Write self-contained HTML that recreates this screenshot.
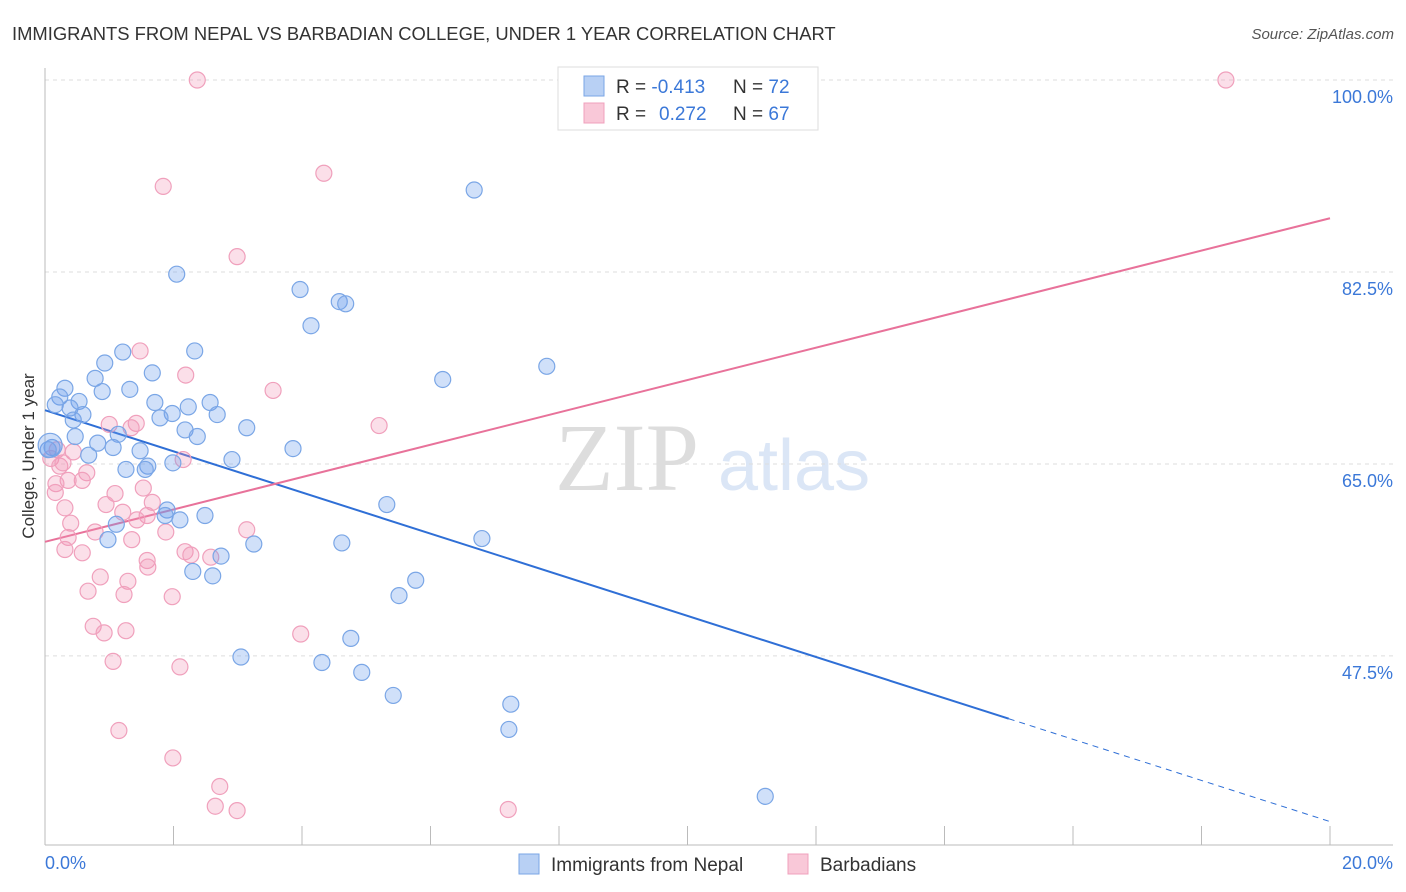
<!DOCTYPE html>
<html><head><meta charset="utf-8"><style>
body{margin:0;background:#fff;font-family:"Liberation Sans",sans-serif;}
svg{display:block}
</style></head><body>
<svg id="chart" width="1406" height="892">
<text x="12" y="40" font-size="18.4" fill="#333">IMMIGRANTS FROM NEPAL VS BARBADIAN COLLEGE, UNDER 1 YEAR CORRELATION CHART</text>
<text x="1394" y="39" font-size="15" fill="#555" font-style="italic" text-anchor="end">Source: ZipAtlas.com</text>
<text x="555" y="490" font-size="96" fill="#ddd" font-family="Liberation Serif,serif">ZIP</text>
<text x="718" y="490" font-size="72" fill="#dbe6f6">atlas</text>
<g id="grid"></g>
<g id="axes"></g>
<g id="lines"></g>
<g id="points"></g>
<text transform="translate(34,456) rotate(-90)" font-size="17" fill="#333" text-anchor="middle">College, Under 1 year</text>
<text x="45" y="869" font-size="18" fill="#3b78d8">0.0%</text>
<text x="1393" y="869" font-size="18" fill="#3b78d8" text-anchor="end">20.0%</text>
<g>
<rect x="558" y="67" width="260" height="63" fill="#fff" stroke="#ddd"/>
<rect x="584" y="76" width="20" height="20" fill="#b8d0f4" stroke="#7aa6e6"/>
<rect x="584" y="103" width="20" height="20" fill="#f9c8d8" stroke="#f0a0bc"/>
<text x="616" y="93" font-size="19" fill="#333">R = <tspan fill="#3b78d8">-0.413</tspan><tspan x="733">N = </tspan><tspan fill="#3b78d8">72</tspan></text>
<text x="616" y="120" font-size="19" fill="#333">R = <tspan fill="#3b78d8" x="659">0.272</tspan><tspan x="733">N = </tspan><tspan fill="#3b78d8">67</tspan></text>
</g>
<g>
<rect x="519" y="854" width="20" height="20" fill="#b8d0f4" stroke="#7aa6e6"/>
<text x="551" y="871" font-size="19" fill="#333">Immigrants from Nepal</text>
<rect x="788" y="854" width="20" height="20" fill="#f9c8d8" stroke="#f0a0bc"/>
<text x="820" y="871" font-size="19" fill="#333">Barbadians</text>
</g>
</svg>
<script>
const yTicks=[100,82.5,65,47.5];
const yTickLabels=["100.0%","82.5%","65.0%","47.5%"];
const xTicks=[0,2,4,6,8,10,12,14,16,18,20];
const blueX=[6.68,2.05,3.97,4.58,4.68,4.14,7.81,1.21,2.33,0.93,1.67,0.31,0.78,1.32,0.89,6.19,0.23,0.53,1.71,2.57,2.23,0.16,0.39,0.59,1.98,2.68,1.79,0.44,2.18,3.14,1.14,2.37,0.47,0.82,1.06,3.86,1.48,0.68,2.91,1.99,1.60,1.26,1.56,5.32,1.90,1.87,2.10,2.49,1.11,0.98,6.80,4.62,3.25,2.74,2.30,2.61,5.77,5.51,4.76,3.05,4.31,4.93,5.42,7.25,7.22,11.21,0.11,0.05,0.08];
const blueY=[89.97,82.3,80.9,79.8,79.6,77.6,73.9,75.2,75.3,74.2,73.3,71.9,72.8,71.8,71.6,72.7,71.1,70.7,70.6,70.6,70.2,70.4,70.1,69.5,69.6,69.5,69.2,69.0,68.1,68.3,67.7,67.5,67.5,66.9,66.5,66.4,66.2,65.8,65.4,65.1,64.8,64.5,64.5,61.3,60.8,60.3,59.9,60.3,59.5,58.1,58.2,57.8,57.7,56.6,55.2,54.8,54.4,53.0,49.1,47.4,46.9,46.0,43.9,43.1,40.8,34.7,66.5,66.3,66.7];
const pinkX=[2.37,18.38,1.84,4.34,2.99,1.48,2.19,3.55,1.00,1.42,1.34,5.20,0.19,0.44,0.09,2.15,0.23,0.65,0.58,0.36,0.17,1.09,1.53,1.67,0.95,0.16,1.59,1.21,1.43,0.40,3.14,1.88,0.78,0.36,1.35,2.58,1.59,0.31,0.58,2.18,2.27,0.86,1.29,1.60,0.67,1.23,1.98,0.75,0.92,1.26,3.98,2.10,1.06,1.15,1.99,2.72,2.65,2.99,7.21,0.31,0.28];
const pinkY=[100.0,100.0,90.3,91.5,83.9,75.3,73.1,71.7,68.6,68.7,68.3,68.5,66.3,66.1,65.5,65.4,64.8,64.2,63.5,63.5,63.2,62.3,62.8,61.5,61.3,62.4,60.3,60.6,59.9,59.6,59.0,58.8,58.8,58.3,58.1,56.5,56.2,57.2,56.9,57.0,56.7,54.7,54.3,55.6,53.4,53.1,52.9,50.2,49.6,49.8,49.5,46.5,47.0,40.7,38.2,35.6,33.8,33.4,33.5,61.0,65.1];
const blueTrend=[69.9,32.4];
const pinkTrend=[57.9,87.4];
const xs=v=>45+v*64.25;
const ys=v=>80+(100-v)*10.97;
const NS="http://www.w3.org/2000/svg";
function mk(tag,attrs,parent){const e=document.createElementNS(NS,tag);for(const k in attrs)e.setAttribute(k,attrs[k]);document.getElementById(parent).appendChild(e);return e;}
yTicks.forEach((t,i)=>{
  const l=mk('line',{x1:45,x2:1393,y1:ys(t),y2:ys(t),stroke:'#ddd','stroke-dasharray':'4,4'},'grid');
  
  
  const tx=mk('text',{x:1393,y:ys(t)+23,'font-size':18,fill:'#3b78d8','text-anchor':'end'},'grid');
  tx.textContent=yTickLabels[i];
  
  
});
const ax=mk('line',{x1:45,x2:45,y1:68,y2:845,stroke:'#bbb'},'axes');


const bx=mk('line',{x1:45,x2:1393,y1:845,y2:845,stroke:'#bbb'},'axes');


xTicks.forEach(t=>{
  const l=mk('line',{x1:xs(t),x2:xs(t),y1:826,y2:845,stroke:'#bbb'},'axes');
  
  
});
function pts(X,Y,fill,stroke,name){
  X.forEach((x,i)=>{
    const c=mk('circle',{cx:xs(x),cy:ys(Y[i]),r:(i===X.length-1&&name==='nepal-point')?12:8,fill:fill,stroke:stroke,'stroke-width':1.2},'points');
    
    
  });
}
pts(pinkX,pinkY,'rgba(242,150,182,0.3)','#f0a0bc','barbadian-point');
pts(blueX,blueY,'rgba(110,160,235,0.32)','#7aa6e6','nepal-point');
const bxEnd=15.0;
const byAt=x=>blueTrend[0]+(blueTrend[1]-blueTrend[0])*x/20;
const b1=mk('line',{x1:xs(0),y1:ys(blueTrend[0]),x2:xs(bxEnd),y2:ys(byAt(bxEnd)),stroke:'#2f6fd6','stroke-width':2},'lines');


const b2=mk('line',{x1:xs(bxEnd),y1:ys(byAt(bxEnd)),x2:xs(20),y2:ys(blueTrend[1]),stroke:'#2f6fd6','stroke-width':1,'stroke-dasharray':'6,5'},'lines');


const p1=mk('line',{x1:xs(0),y1:ys(pinkTrend[0]),x2:xs(20),y2:ys(pinkTrend[1]),stroke:'#e8729a','stroke-width':2},'lines');


</script>
</body></html>
